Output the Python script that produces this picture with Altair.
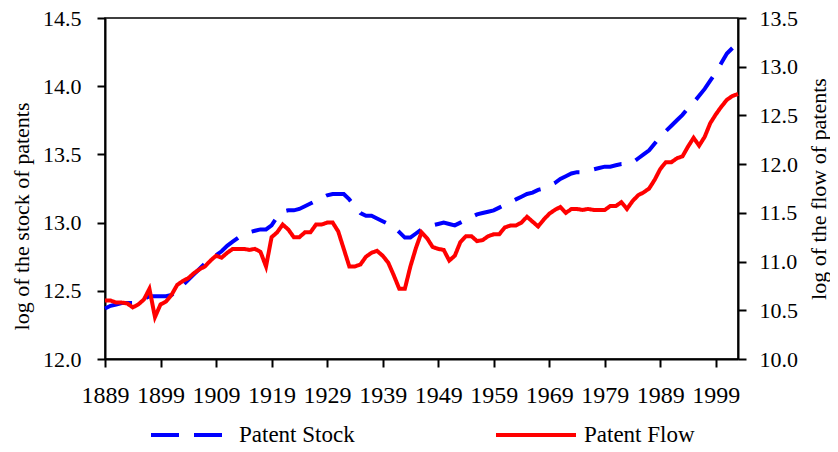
import altair as alt
import pandas as pd

years_stock = list(range(1889, 2003))
stock = [12.37, 12.39, 12.40, 12.41, 12.41, 12.41, 12.42, 12.44, 12.46, 12.46,
         12.46, 12.46, 12.47, 12.50, 12.54, 12.58, 12.62, 12.66, 12.70, 12.73,
         12.76, 12.79, 12.83, 12.86, 12.89, 12.91, 12.93, 12.94, 12.95, 12.95,
         12.98, 13.04, 13.08, 13.09, 13.09, 13.10, 13.12, 13.14, 13.16, 13.18,
         13.20, 13.21, 13.21, 13.21, 13.17, 13.12, 13.07, 13.05, 13.05, 13.03,
         13.01, 12.99, 12.97, 12.93, 12.89, 12.89, 12.92, 12.95, 12.97, 12.98,
         12.99, 13.00, 12.99, 12.98, 13.00, 13.02, 13.04, 13.06, 13.07, 13.08,
         13.09, 13.11, 13.13, 13.15, 13.17, 13.19, 13.21, 13.22, 13.24, 13.25,
         13.27, 13.29, 13.32, 13.34, 13.36, 13.37, 13.37, 13.38, 13.39, 13.40,
         13.41, 13.41, 13.42, 13.43, 13.43, 13.44, 13.47, 13.50, 13.53, 13.58,
         13.63, 13.67, 13.71, 13.75, 13.79, 13.84, 13.88, 13.93, 13.98, 14.04,
         14.10, 14.17, 14.24, 14.28]

years_flow = list(range(1889, 2004))
flow = [10.60, 10.60, 10.58, 10.58, 10.57, 10.53, 10.56, 10.61, 10.72, 10.43,
        10.56, 10.59, 10.66, 10.76, 10.80, 10.83, 10.88, 10.92, 10.95, 11.01,
        11.06, 11.04, 11.09, 11.13, 11.13, 11.13, 11.12, 11.13, 11.10, 10.95,
        11.25, 11.30, 11.38, 11.33, 11.25, 11.25, 11.30, 11.30, 11.38, 11.38,
        11.40, 11.40, 11.31, 11.13, 10.95, 10.95, 10.97, 11.05, 11.09, 11.11,
        11.06, 10.99, 10.86, 10.72, 10.72, 10.95, 11.14, 11.30, 11.24, 11.15,
        11.13, 11.12, 11.01, 11.06, 11.20, 11.26, 11.26, 11.21, 11.22, 11.26,
        11.28, 11.28, 11.35, 11.37, 11.37, 11.40, 11.46, 11.41, 11.36, 11.43,
        11.49, 11.53, 11.56, 11.50, 11.54, 11.54, 11.53, 11.54, 11.53, 11.53,
        11.53, 11.57, 11.57, 11.61, 11.54, 11.62, 11.68, 11.71, 11.75, 11.84,
        11.95, 12.02, 12.02, 12.06, 12.08, 12.18, 12.27, 12.19, 12.28, 12.42,
        12.51, 12.59, 12.66, 12.70, 12.72]

series_names = ["Patent Stock", "Patent Flow"]
x_ticks = list(range(1889, 2000, 10))
left_ticks = [12.0, 12.5, 13.0, 13.5, 14.0, 14.5]
right_ticks = [10.0, 10.5, 11.0, 11.5, 12.0, 12.5, 13.0, 13.5]

df = pd.concat([
    pd.DataFrame({"year": years_stock, "value": stock, "series": series_names[0]}),
    pd.DataFrame({"year": years_flow, "value": flow, "series": series_names[1]}),
])

FONT = "Liberation Serif"
common_axis = dict(grid=False, domainColor="black", domainWidth=2, tickColor="black",
                   tickWidth=2, tickSize=8, labelFont=FONT, labelColor="black",
                   titleFont=FONT, titleFontSize=22, titleFontWeight="normal",
                   titleColor="black")

x_enc = alt.X("year:Q", scale=alt.Scale(domain=[1889, 2003], nice=False, zero=False),
              axis=alt.Axis(values=x_ticks, format="d", title=None, labelPadding=16,
                            labelFontSize=24, labelFlush=False, **common_axis))

color_enc = alt.Color("series:N",
                      scale=alt.Scale(domain=series_names, range=["#0000FF", "#FF0000"]),
                      legend=alt.Legend(title=None, orient="none", legendX=44, legendY=375,
                                        direction="horizontal", symbolType="stroke",
                                        symbolSize=6400, symbolStrokeWidth=4,
                                        labelFontSize=23, labelFont=FONT, labelColor="black",
                                        labelOffset=6, columnPadding=133, padding=0,
                                        labelLimit=300))
dash_enc = alt.StrokeDash("series:N",
                          scale=alt.Scale(domain=series_names, range=[[28, 15], [1, 0]]),
                          legend=alt.Legend(title=None))

base = alt.Chart(df)

stock_line = base.transform_filter(alt.datum.series == series_names[0]).mark_line(
    strokeWidth=4, strokeCap="butt").encode(
    x=x_enc,
    y=alt.Y("value:Q", scale=alt.Scale(domain=[12.0, 14.5], nice=False, zero=False),
            axis=alt.Axis(orient="left", values=left_ticks, format=".1f",
                          title="log of the stock of patents", labelPadding=16,
                          labelFontSize=22, titlePadding=9, titleY=198, **common_axis)),
    color=color_enc,
    strokeDash=dash_enc,
)

flow_line = base.transform_filter(alt.datum.series == series_names[1]).mark_line(
    strokeWidth=4, strokeCap="butt").encode(
    x=x_enc,
    y=alt.Y("value:Q", scale=alt.Scale(domain=[10.0, 13.5], nice=False, zero=False),
            axis=alt.Axis(orient="right", values=right_ticks, format=".1f",
                          title="log of the flow of patents", labelPadding=13,
                          labelFontSize=22, titlePadding=11, titleAngle=-90,
                          titleBaseline="top", **common_axis)),
    color=color_enc,
    strokeDash=dash_enc,
)

chart = alt.layer(stock_line, flow_line).resolve_scale(y="independent").properties(
    width=633, height=341,
    autosize=alt.AutoSizeParams(type="none"),
    padding={"left": 97, "top": 10, "right": 92, "bottom": 85},
).configure_view(stroke="black", strokeWidth=1.5)

chart.save("out.html", embed_options={"renderer": "svg", "actions": False})
